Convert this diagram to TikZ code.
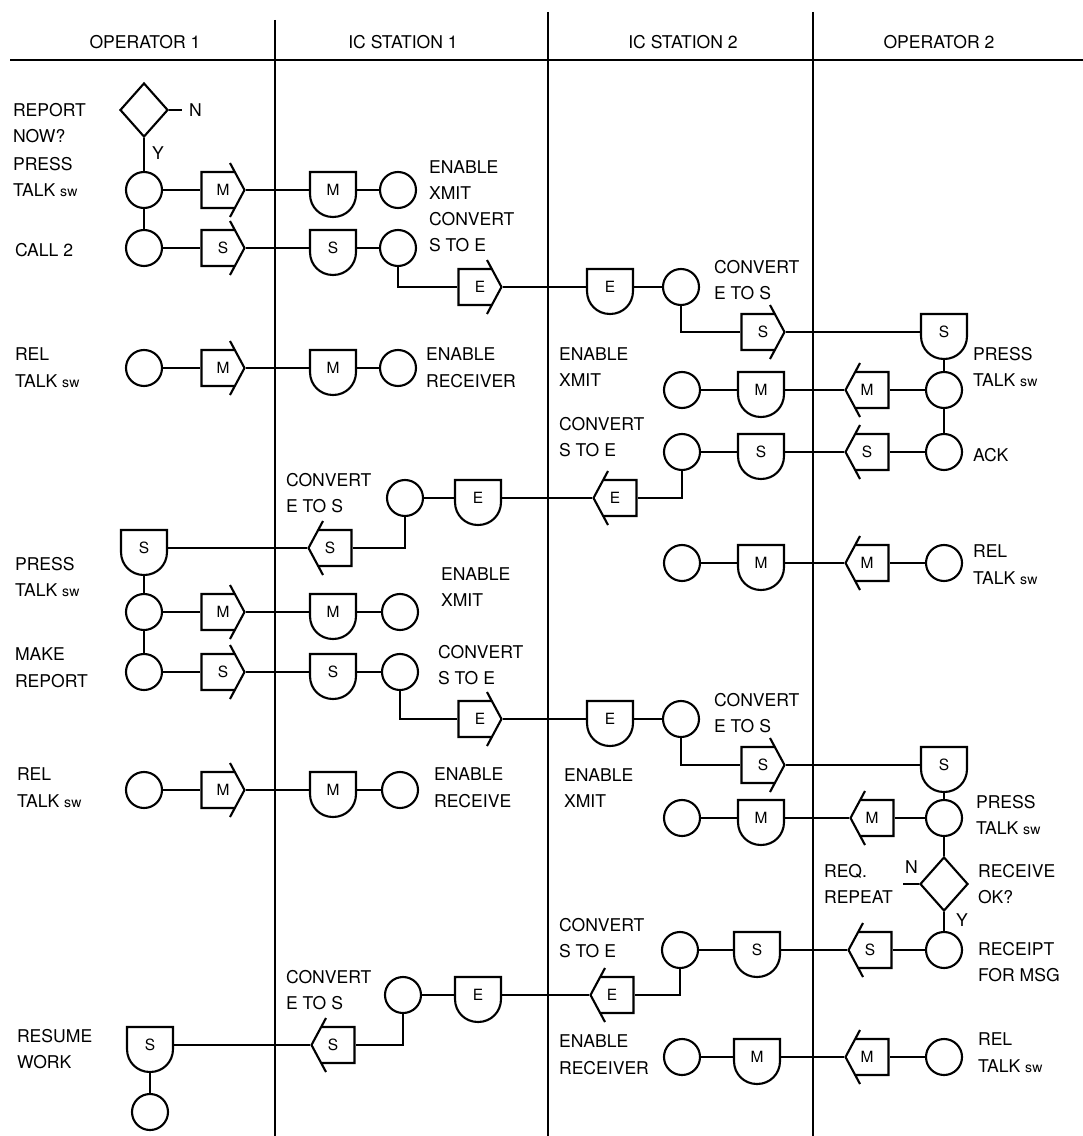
\documentclass[tikz,border=0pt]{standalone}
\usepackage{fontspec}
\setmainfont{TeX Gyre Heros}
\usepackage{tikz}
\usetikzlibrary{shapes.geometric}

\newcommand{\sw}{{\fontsize{10}{12}\selectfont sw}}

\tikzset{
  lbl/.style={anchor=west, align=left, inner sep=0pt, font=\fontsize{12.5}{19}\selectfont},
  hd/.style={inner sep=0pt, font=\fontsize{12.5}{15}\selectfont},
  stn/.style={circle, draw, minimum size=0.9cm, inner sep=0pt},
  dec/.style={diamond, draw, minimum width=1.2cm, minimum height=1.35cm, inner sep=0pt},
  sndtag/.style={minimum width=1.15cm, minimum height=0.9cm, inner sep=0pt, outer sep=0pt,
    font=\fontsize{11}{12}\selectfont},
  rcvtag/.style={minimum width=1.2cm, minimum height=1.4cm, inner sep=0pt, outer sep=0pt,
    font=\fontsize{11}{12}\selectfont}
}

% sender: direction (1 right, -1 left), name, position, letter
\newcommand{\sendbox}[4]{%
  \node[sndtag] (#2) at (#3) {#4};
  \draw[shift={(#3)}, xscale=#1] (7,-27) -- (21.5,0) -- (7,27)
    (11.8,-18) -- (-21.5,-18) -- (-21.5,18) -- (11.8,18);}
% receiver: name, position, letter
\newcommand{\recvbox}[3]{%
  \node[rcvtag] (#1) at (#2) {#3};
  \draw[shift={(#2)}] (-23,4) -- (-23,-18) -- (23,-18) -- (23,4)
    .. controls (23,17) and (13,27) .. (0,27)
    .. controls (-13,27) and (-23,17) .. (-23,4);}

\begin{document}
\begin{tikzpicture}[x=0.025cm, y=-0.025cm, line width=1.5pt]
\useasboundingbox (0,0) rectangle (1083,1136);

\draw (10,60) -- (1083,60);
\draw (275,20) -- (275,1136);
\draw (548,12) -- (548,1136);
\draw (813,12) -- (813,1136);
\node[hd] (hop1) at (145,42) {OPERATOR 1};
\node[hd] (hic1) at (403,42) {IC STATION 1};
\node[hd] (hic2) at (683,42) {IC STATION 2};
\node[hd] (hop2) at (939,42) {OPERATOR 2};

\node[dec] (q1) at (144,110) {};
\coordinate (q1n) at (182,110);
\node[lbl] (q1no) at (188,110) {N};
\node[lbl] (q1yes) at (151,153) {Y};
\node[stn] (a1) at (144,190) {};
\node[stn] (a2) at (144,248) {};
\node[stn] (a3) at (144,368) {};
\node[stn] (a4) at (144,612) {};
\node[stn] (a5) at (144,672) {};
\node[stn] (a6) at (144,790) {};
\node[stn] (a7) at (150,1112) {};
\recvbox{ra1}{144,548}{S}
\recvbox{ra2}{150,1045}{S}
\sendbox{1}{ta1}{223,190}{M}
\sendbox{1}{ta2}{223,248}{S}
\sendbox{1}{ta3}{223,368}{M}
\sendbox{1}{ta4}{223,612}{M}
\sendbox{1}{ta5}{223,672}{S}
\sendbox{1}{ta6}{223,790}{M}

\recvbox{rb1}{333,190}{M}
\recvbox{rb2}{333,248}{S}
\recvbox{rb3}{333,368}{M}
\recvbox{rb4}{333,612}{M}
\recvbox{rb5}{333,672}{S}
\recvbox{rb6}{333,790}{M}
\recvbox{rb7}{478,498}{E}
\recvbox{rb8}{478,995}{E}
\node[stn] (b1) at (398,190) {};
\node[stn] (b2) at (398,248) {};
\node[stn] (b3) at (398,368) {};
\node[stn] (b4) at (400,612) {};
\node[stn] (b5) at (400,672) {};
\node[stn] (b6) at (400,790) {};
\node[stn] (b7) at (405,498) {};
\node[stn] (b8) at (403,995) {};
\sendbox{1}{tb1}{480,287}{E}
\sendbox{1}{tb2}{480,719}{E}
\sendbox{-1}{tb3}{330,548}{S}
\sendbox{-1}{tb4}{333,1045}{S}

\recvbox{rc1}{610,287}{E}
\recvbox{rc2}{610,719}{E}
\recvbox{rc3}{761,390}{M}
\recvbox{rc4}{761,452}{S}
\recvbox{rc5}{761,563}{M}
\recvbox{rc6}{761,818}{M}
\recvbox{rc7}{757,950}{S}
\recvbox{rc8}{757,1057}{M}
\node[stn] (c1) at (681,287) {};
\node[stn] (c2) at (681,719) {};
\node[stn] (c3) at (682,390) {};
\node[stn] (c4) at (682,452) {};
\node[stn] (c5) at (682,563) {};
\node[stn] (c6) at (682,818) {};
\node[stn] (c7) at (680,950) {};
\node[stn] (c8) at (682,1057) {};
\sendbox{1}{tc1}{763,332}{S}
\sendbox{1}{tc2}{763,765}{S}
\sendbox{-1}{tc3}{615,498}{E}
\sendbox{-1}{tc4}{612,995}{E}

\recvbox{rd1}{944,332}{S}
\recvbox{rd2}{944,765}{S}
\node[stn] (d1) at (944,390) {};
\node[stn] (d2) at (944,452) {};
\node[stn] (d3) at (944,563) {};
\node[stn] (d4) at (944,818) {};
\node[stn] (d5) at (944,950) {};
\node[stn] (d6) at (944,1057) {};
\node[dec] (q2) at (944,884) {};
\coordinate (q2n) at (903,884);
\node[lbl] (q2no) at (904,867) {N};
\node[lbl] (q2yes) at (955,920) {Y};
\sendbox{-1}{td1}{867,390}{M}
\sendbox{-1}{td2}{867,452}{S}
\sendbox{-1}{td3}{867,563}{M}
\sendbox{-1}{td4}{872,818}{M}
\sendbox{-1}{td5}{870,950}{S}
\sendbox{-1}{td6}{867,1057}{M}

\node[lbl] (la1) at (12,123) {REPORT\\NOW?};
\node[lbl] (la2) at (12,177) {PRESS\\TALK \sw};
\node[lbl] (la3) at (14,250) {CALL 2};
\node[lbl] (la4) at (14,368) {REL\\TALK \sw};
\node[lbl] (la5) at (14,577) {PRESS\\TALK \sw};
\node[lbl] (la6) at (14,668) {MAKE\\REPORT};
\node[lbl] (la7) at (16,788) {REL\\TALK \sw};
\node[lbl] (la8) at (16,1049) {RESUME\\WORK};

\node[lbl] (lb1) at (428,180) {ENABLE\\XMIT};
\node[lbl] (lb2) at (428,232) {CONVERT\\S TO E};
\node[lbl] (lb3) at (425,368) {ENABLE\\RECEIVER};
\node[lbl] (lb4) at (285,493) {CONVERT\\E TO S};
\node[lbl] (lb5) at (440,587) {ENABLE\\XMIT};
\node[lbl] (lb6) at (437,665) {CONVERT\\S TO E};
\node[lbl] (lb7) at (433,788) {ENABLE\\RECEIVE};
\node[lbl] (lb8) at (285,990) {CONVERT\\E TO S};

\node[lbl] (lc1) at (713,280) {CONVERT\\E TO S};
\node[lbl] (lc2) at (558,367) {ENABLE\\XMIT};
\node[lbl] (lc3) at (558,437) {CONVERT\\S TO E};
\node[lbl] (lc4) at (713,713) {CONVERT\\E TO S};
\node[lbl] (lc5) at (563,788) {ENABLE\\XMIT};
\node[lbl] (lc6) at (823,884) {REQ.\\REPEAT};
\node[lbl] (lc7) at (558,938) {CONVERT\\S TO E};
\node[lbl] (lc8) at (558,1055) {ENABLE\\RECEIVER};

\node[lbl] (ld1) at (972,367) {PRESS\\TALK \sw};
\node[lbl] (ld2) at (972,455) {ACK};
\node[lbl] (ld3) at (972,565) {REL\\TALK \sw};
\node[lbl] (ld4) at (975,815) {PRESS\\TALK \sw};
\node[lbl] (ld5) at (977,884) {RECEIVE\\OK?};
\node[lbl] (ld6) at (977,962) {RECEIPT\\FOR MSG};
\node[lbl] (ld7) at (977,1053) {REL\\TALK \sw};

\draw (q1) -- (q1n);
\draw (q1) -- (a1) -- (a2);
\draw (a1) -- (ta1) -- (rb1) -- (b1);
\draw (a2) -- (ta2) -- (rb2) -- (b2);
\draw (b2) |- (tb1);
\draw (tb1) -- (rc1) -- (c1);
\draw (c1) |- (tc1);
\draw (tc1) -- (rd1);
\draw (rd1) -- (d1) -- (d2);
\draw (d1) -- (td1) -- (rc3) -- (c3);
\draw (d2) -- (td2) -- (rc4) -- (c4);
\draw (c4) |- (tc3);
\draw (tc3) -- (rb7) -- (b7);
\draw (b7) |- (tb3);
\draw (tb3) -- (ra1);
\draw (ra1) -- (a4) -- (a5);
\draw (a3) -- (ta3) -- (rb3) -- (b3);
\draw (d3) -- (td3) -- (rc5) -- (c5);
\draw (a4) -- (ta4) -- (rb4) -- (b4);
\draw (a5) -- (ta5) -- (rb5) -- (b5);
\draw (b5) |- (tb2);
\draw (tb2) -- (rc2) -- (c2);
\draw (c2) |- (tc2);
\draw (tc2) -- (rd2);
\draw (rd2) -- (d4);
\draw (d4) -- (td4) -- (rc6) -- (c6);
\draw (d4) -- (q2) -- (d5);
\draw (q2) -- (q2n);
\draw (d5) -- (td5) -- (rc7) -- (c7);
\draw (c7) |- (tc4);
\draw (tc4) -- (rb8) -- (b8);
\draw (b8) |- (tb4);
\draw (tb4) -- (ra2);
\draw (ra2) -- (a7);
\draw (a6) -- (ta6) -- (rb6) -- (b6);
\draw (d6) -- (td6) -- (rc8) -- (c8);
\end{tikzpicture}
\end{document}
